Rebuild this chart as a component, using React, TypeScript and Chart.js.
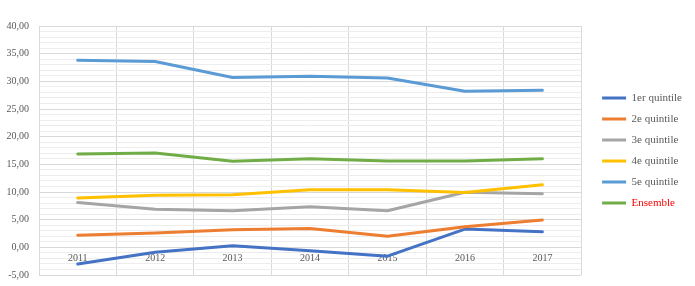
import React, { useEffect, useRef } from 'react';
import { Chart, registerables } from 'chart.js';

Chart.register(...registerables);

const years = ['2011', '2012', '2013', '2014', '2015', '2016', '2017'];
const q1 = [-3.0, -0.9, 0.3, -0.6, -1.6, 3.3, 2.8];
const q2 = [2.2, 2.6, 3.2, 3.4, 2.0, 3.7, 4.95];
const q3 = [8.1, 6.9, 6.6, 7.35, 6.6, 9.95, 9.7];
const q4 = [8.9, 9.4, 9.5, 10.4, 10.4, 9.9, 11.3];
const q5 = [33.8, 33.6, 30.7, 30.9, 30.6, 28.2, 28.4];
const ensemble = [16.85, 17.05, 15.55, 16.0, 15.6, 15.6, 16.0];

const seriesNames = ['1er quintile', '2e quintile', '3e quintile', '4e quintile', '5e quintile', 'Ensemble'];
const seriesColors = ['#4472C4', '#ED7D31', '#A5A5A5', '#FFC000', '#5B9BD5', '#70AD47'];
const yMin = -5;
const yMax = 40;
const majorStep = 5;
const minorStep = 1;

const fontFamily = '"Liberation Serif", "Times New Roman", serif';
const textColor = '#595959';

export default function App() {
  const ref = useRef<HTMLCanvasElement>(null);

  useEffect(() => {
    const values = [q1, q2, q3, q4, q5, ensemble];
    const chart = new Chart(ref.current!, {
      type: 'line',
      data: {
        labels: years,
        datasets: values.map((d, i) => ({
          label: seriesNames[i],
          data: d,
          borderColor: seriesColors[i],
          backgroundColor: seriesColors[i],
          borderWidth: 3,
          pointRadius: 0,
          tension: 0,
          fill: false,
          order: values.length - i,
          borderCapStyle: 'round',
          borderJoinStyle: 'round',
          yAxisID: 'y',
        })),
      },
      options: {
        animation: false,
        responsive: false,
        maintainAspectRatio: false,
        layout: { padding: { top: 26, left: 0, right: 3, bottom: 0 } },
        plugins: {
          tooltip: { enabled: false },
          legend: {
            position: 'right',
            fullSize: false,
            labels: {
              boxWidth: 24,
              boxHeight: 3,
              padding: 10,
              font: { family: fontFamily, size: 11 },
              color: textColor,
              sort: (a: any, b: any) => a.datasetIndex - b.datasetIndex,
              generateLabels: (c: any) =>
                (Chart.defaults.plugins.legend.labels as any).generateLabels(c).map((l: any) => ({
                  ...l,
                  lineWidth: 0,
                  fillStyle: l.strokeStyle,
                  fontColor: l.text === 'Ensemble' ? '#FF0000' : textColor,
                })),
            },
          },
        },
        scales: {
          x: {
            position: { y: 0 } as any,
            offset: true,
            grid: { offset: true, color: '#d9d9d9', drawTicks: false },
            border: { color: '#d9d9d9' },
            ticks: {
              color: textColor,
              font: { family: fontFamily, size: 10 },
              padding: 5,
              maxRotation: 0,
              autoSkip: false,
            },
            afterFit: (s: any) => {
              s.height = 0;
            },
          },
          y: {
            min: yMin,
            max: yMax,
            ticks: {
              stepSize: minorStep,
              autoSkip: false,
              maxTicksLimit: 100,
              color: textColor,
              font: { family: fontFamily, size: 10 },
              padding: 10,
              callback: (v: any) => (Number(v) % majorStep === 0 ? Number(v).toFixed(2).replace('.', ',') : ''),
            },
            grid: {
              drawTicks: false,
              color: (ctx: any) => (ctx.tick && ctx.tick.value % majorStep === 0 ? '#d9d9d9' : '#ededed'),
            },
            border: { color: '#d9d9d9' },
            afterFit: (s: any) => {
              s.width = 39;
              s.paddingTop = 0;
              s.paddingBottom = 11;
            },
          },
          gap: {
            axis: 'y',
            position: 'right',
            display: true,
            grid: { display: false },
            ticks: { display: false },
            border: { display: false },
            afterFit: (s: any) => {
              s.width = 11;
            },
          },
        },
      },
    } as any);
    return () => chart.destroy();
  }, []);

  return (
    <div style={{ position: 'fixed', left: 0, top: 0, width: 695, height: 286, background: '#ffffff' }}>
      <canvas ref={ref} width={695} height={286} />
    </div>
  );
}
